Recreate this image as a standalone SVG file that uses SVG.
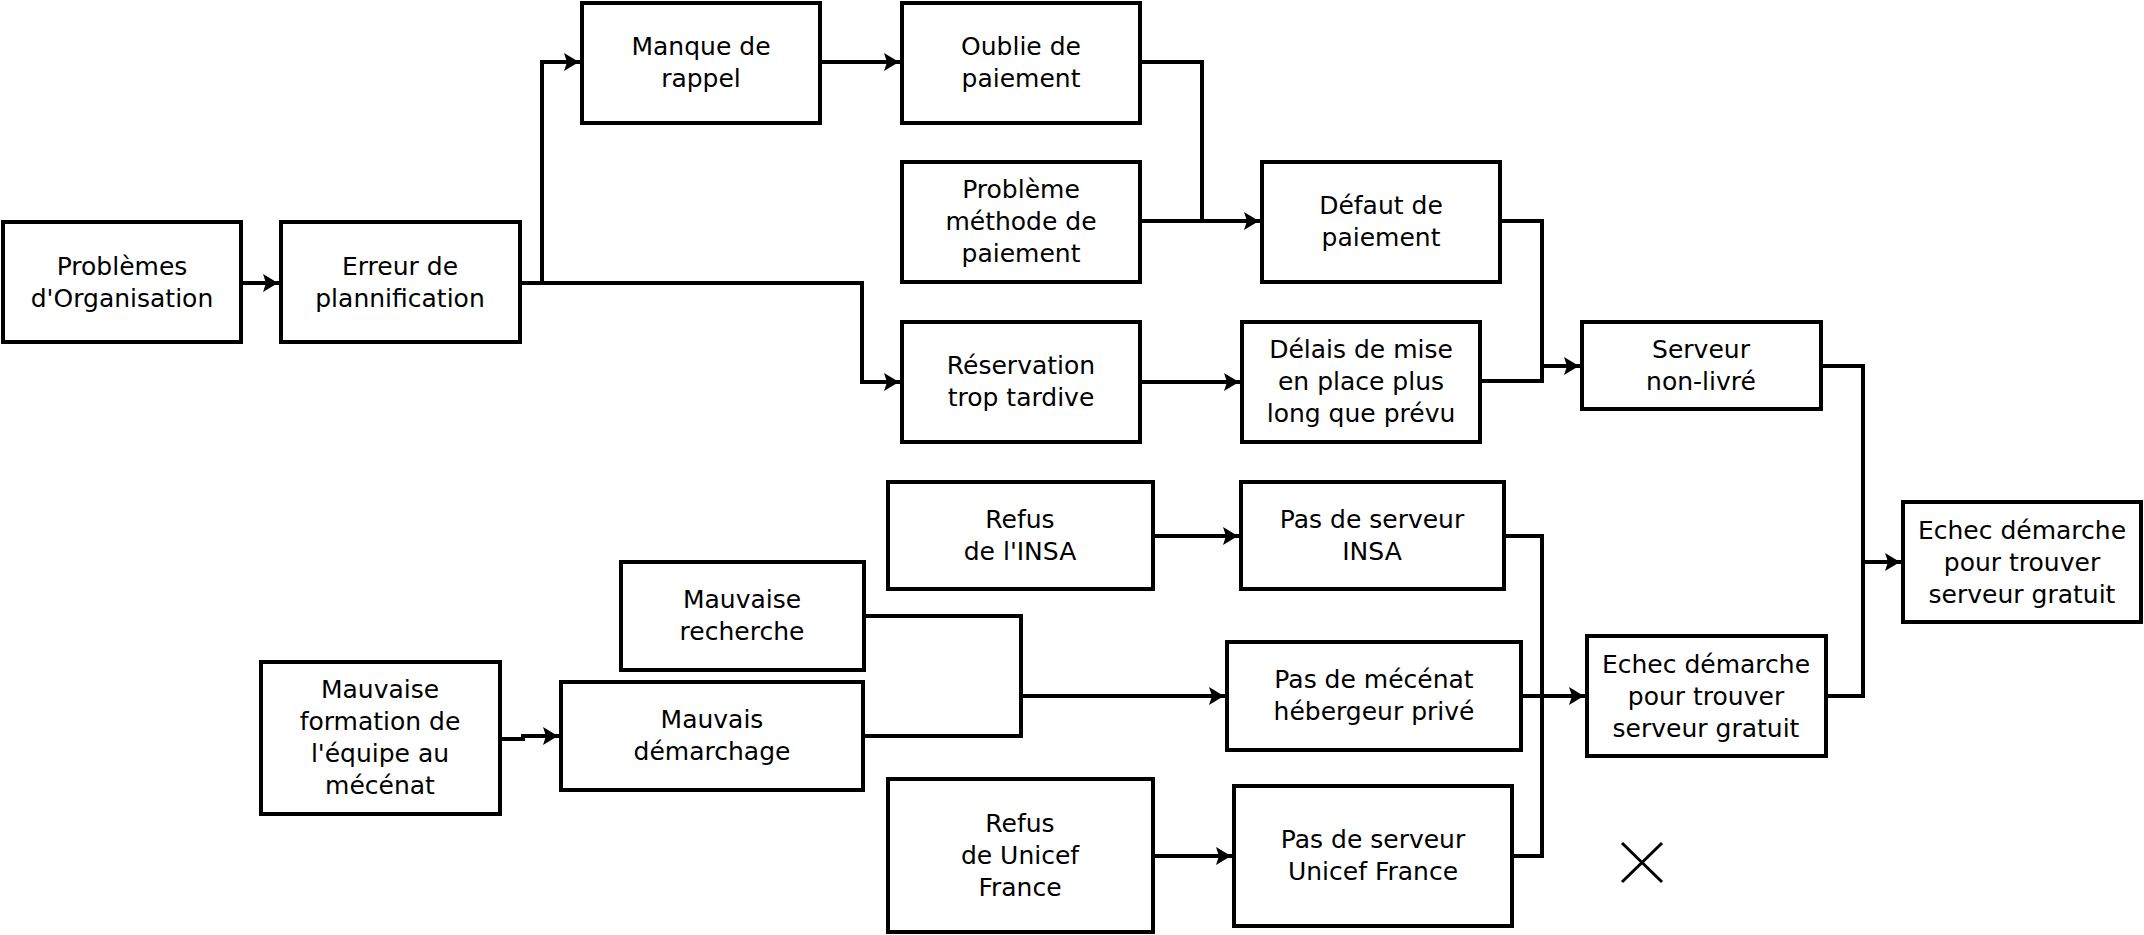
<svg xmlns="http://www.w3.org/2000/svg" width="2144" height="935" viewBox="0 0 2144 935">
<style>
.box{fill:#fff;stroke:#000;stroke-width:4}
.lbl{font-family:"DejaVu Sans","Liberation Sans",sans-serif;font-size:25px;text-anchor:middle;fill:#000}
.c{fill:none;stroke:#000;stroke-width:4;stroke-linecap:square}
</style>
<defs>
<marker id="arr" markerUnits="userSpaceOnUse" markerWidth="16" markerHeight="20" viewBox="0 0 16 20" refX="15" refY="10" orient="auto">
<path d="M0,1 L15,10 L0,19 L3,10 Z" fill="#000"/>
</marker>
</defs>
<rect width="2144" height="935" fill="#fff"/>
<g id="connectors">
<path class="c" d="M241,283 H278" marker-end="url(#arr)"/>
<path class="c" d="M520,283 H542 V62 H579" marker-end="url(#arr)"/>
<path class="c" d="M542,283 H862 V382 H899" marker-end="url(#arr)"/>
<path class="c" d="M820,62 H899" marker-end="url(#arr)"/>
<path class="c" d="M1140,62 H1202 V221"/>
<path class="c" d="M1140,221 H1259" marker-end="url(#arr)"/>
<path class="c" d="M1140,382 H1239" marker-end="url(#arr)"/>
<path class="c" d="M1500,221 H1542 V381"/>
<path class="c" d="M1480,381 H1542"/>
<path class="c" d="M1542,366 H1579" marker-end="url(#arr)"/>
<path class="c" d="M1821,366 H1863 V696"/>
<path class="c" d="M1826,696 H1863"/>
<path class="c" d="M1863,562 H1900" marker-end="url(#arr)"/>
<path class="c" d="M1153,536 H1238" marker-end="url(#arr)"/>
<path class="c" d="M1504,536 H1542 V856"/>
<path class="c" d="M1512,856 H1542"/>
<path class="c" d="M1521,696 H1584" marker-end="url(#arr)"/>
<path class="c" d="M1153,856 H1231" marker-end="url(#arr)"/>
<path class="c" d="M864,616 H1021 V736"/>
<path class="c" d="M863,736 H1021"/>
<path class="c" d="M1021,696 H1224" marker-end="url(#arr)"/>
<path class="c" d="M500,739 H523 V736 H558" marker-end="url(#arr)"/>
</g>
<g id="n1"><rect class="box" x="3" y="222" width="238" height="120"/><text class="lbl" x="122" y="275">Problèmes</text><text class="lbl" x="122" y="307">d'Organisation</text></g>
<g id="n2"><rect class="box" x="281" y="222" width="239" height="120"/><text class="lbl" x="400" y="275">Erreur de</text><text class="lbl" x="400" y="307">plannification</text></g>
<g id="n3"><rect class="box" x="582" y="3" width="238" height="120"/><text class="lbl" x="701" y="55">Manque de</text><text class="lbl" x="701" y="87">rappel</text></g>
<g id="n4"><rect class="box" x="902" y="3" width="238" height="120"/><text class="lbl" x="1021" y="55">Oublie de</text><text class="lbl" x="1021" y="87">paiement</text></g>
<g id="n5"><rect class="box" x="902" y="162" width="238" height="120"/><text class="lbl" x="1021" y="198">Problème</text><text class="lbl" x="1021" y="230">méthode de</text><text class="lbl" x="1021" y="262">paiement</text></g>
<g id="n6"><rect class="box" x="1262" y="162" width="238" height="120"/><text class="lbl" x="1381" y="214">Défaut de</text><text class="lbl" x="1381" y="246">paiement</text></g>
<g id="n7"><rect class="box" x="902" y="322" width="238" height="120"/><text class="lbl" x="1021" y="374">Réservation</text><text class="lbl" x="1021" y="406">trop tardive</text></g>
<g id="n8"><rect class="box" x="1242" y="322" width="238" height="120"/><text class="lbl" x="1361" y="358">Délais de mise</text><text class="lbl" x="1361" y="390">en place plus</text><text class="lbl" x="1361" y="422">long que prévu</text></g>
<g id="n9"><rect class="box" x="1582" y="322" width="239" height="87"/><text class="lbl" x="1701" y="358">Serveur</text><text class="lbl" x="1701" y="390">non-livré</text></g>
<g id="n10"><rect class="box" x="1903" y="502" width="238" height="120"/><text class="lbl" x="2022" y="539">Echec démarche</text><text class="lbl" x="2022" y="571">pour trouver</text><text class="lbl" x="2022" y="603">serveur gratuit</text></g>
<g id="n11"><rect class="box" x="888" y="482" width="265" height="107"/><text class="lbl" x="1020" y="528">Refus</text><text class="lbl" x="1020" y="560">de l'INSA</text></g>
<g id="n12"><rect class="box" x="1241" y="482" width="263" height="107"/><text class="lbl" x="1372" y="528">Pas de serveur</text><text class="lbl" x="1372" y="560">INSA</text></g>
<g id="n13"><rect class="box" x="621" y="562" width="243" height="108"/><text class="lbl" x="742" y="608">Mauvaise</text><text class="lbl" x="742" y="640">recherche</text></g>
<g id="n14"><rect class="box" x="261" y="662" width="239" height="152"/><text class="lbl" x="380" y="698">Mauvaise</text><text class="lbl" x="380" y="730">formation de</text><text class="lbl" x="380" y="762">l'équipe au</text><text class="lbl" x="380" y="794">mécénat</text></g>
<g id="n15"><rect class="box" x="561" y="682" width="302" height="108"/><text class="lbl" x="712" y="728">Mauvais</text><text class="lbl" x="712" y="760">démarchage</text></g>
<g id="n16"><rect class="box" x="1227" y="642" width="294" height="108"/><text class="lbl" x="1374" y="688">Pas de mécénat</text><text class="lbl" x="1374" y="720">hébergeur privé</text></g>
<g id="n17"><rect class="box" x="1587" y="636" width="239" height="120"/><text class="lbl" x="1706" y="673">Echec démarche</text><text class="lbl" x="1706" y="705">pour trouver</text><text class="lbl" x="1706" y="737">serveur gratuit</text></g>
<g id="n18"><rect class="box" x="888" y="779" width="265" height="153"/><text class="lbl" x="1020" y="832">Refus</text><text class="lbl" x="1020" y="864">de Unicef</text><text class="lbl" x="1020" y="896">France</text></g>
<g id="n19"><rect class="box" x="1234" y="786" width="278" height="140"/><text class="lbl" x="1373" y="848">Pas de serveur</text><text class="lbl" x="1373" y="880">Unicef France</text></g>
<g id="xmark"><path d="M1622,843 L1662,882 M1662,843 L1622,882" fill="none" stroke="#000" stroke-width="3"/></g>
</svg>
